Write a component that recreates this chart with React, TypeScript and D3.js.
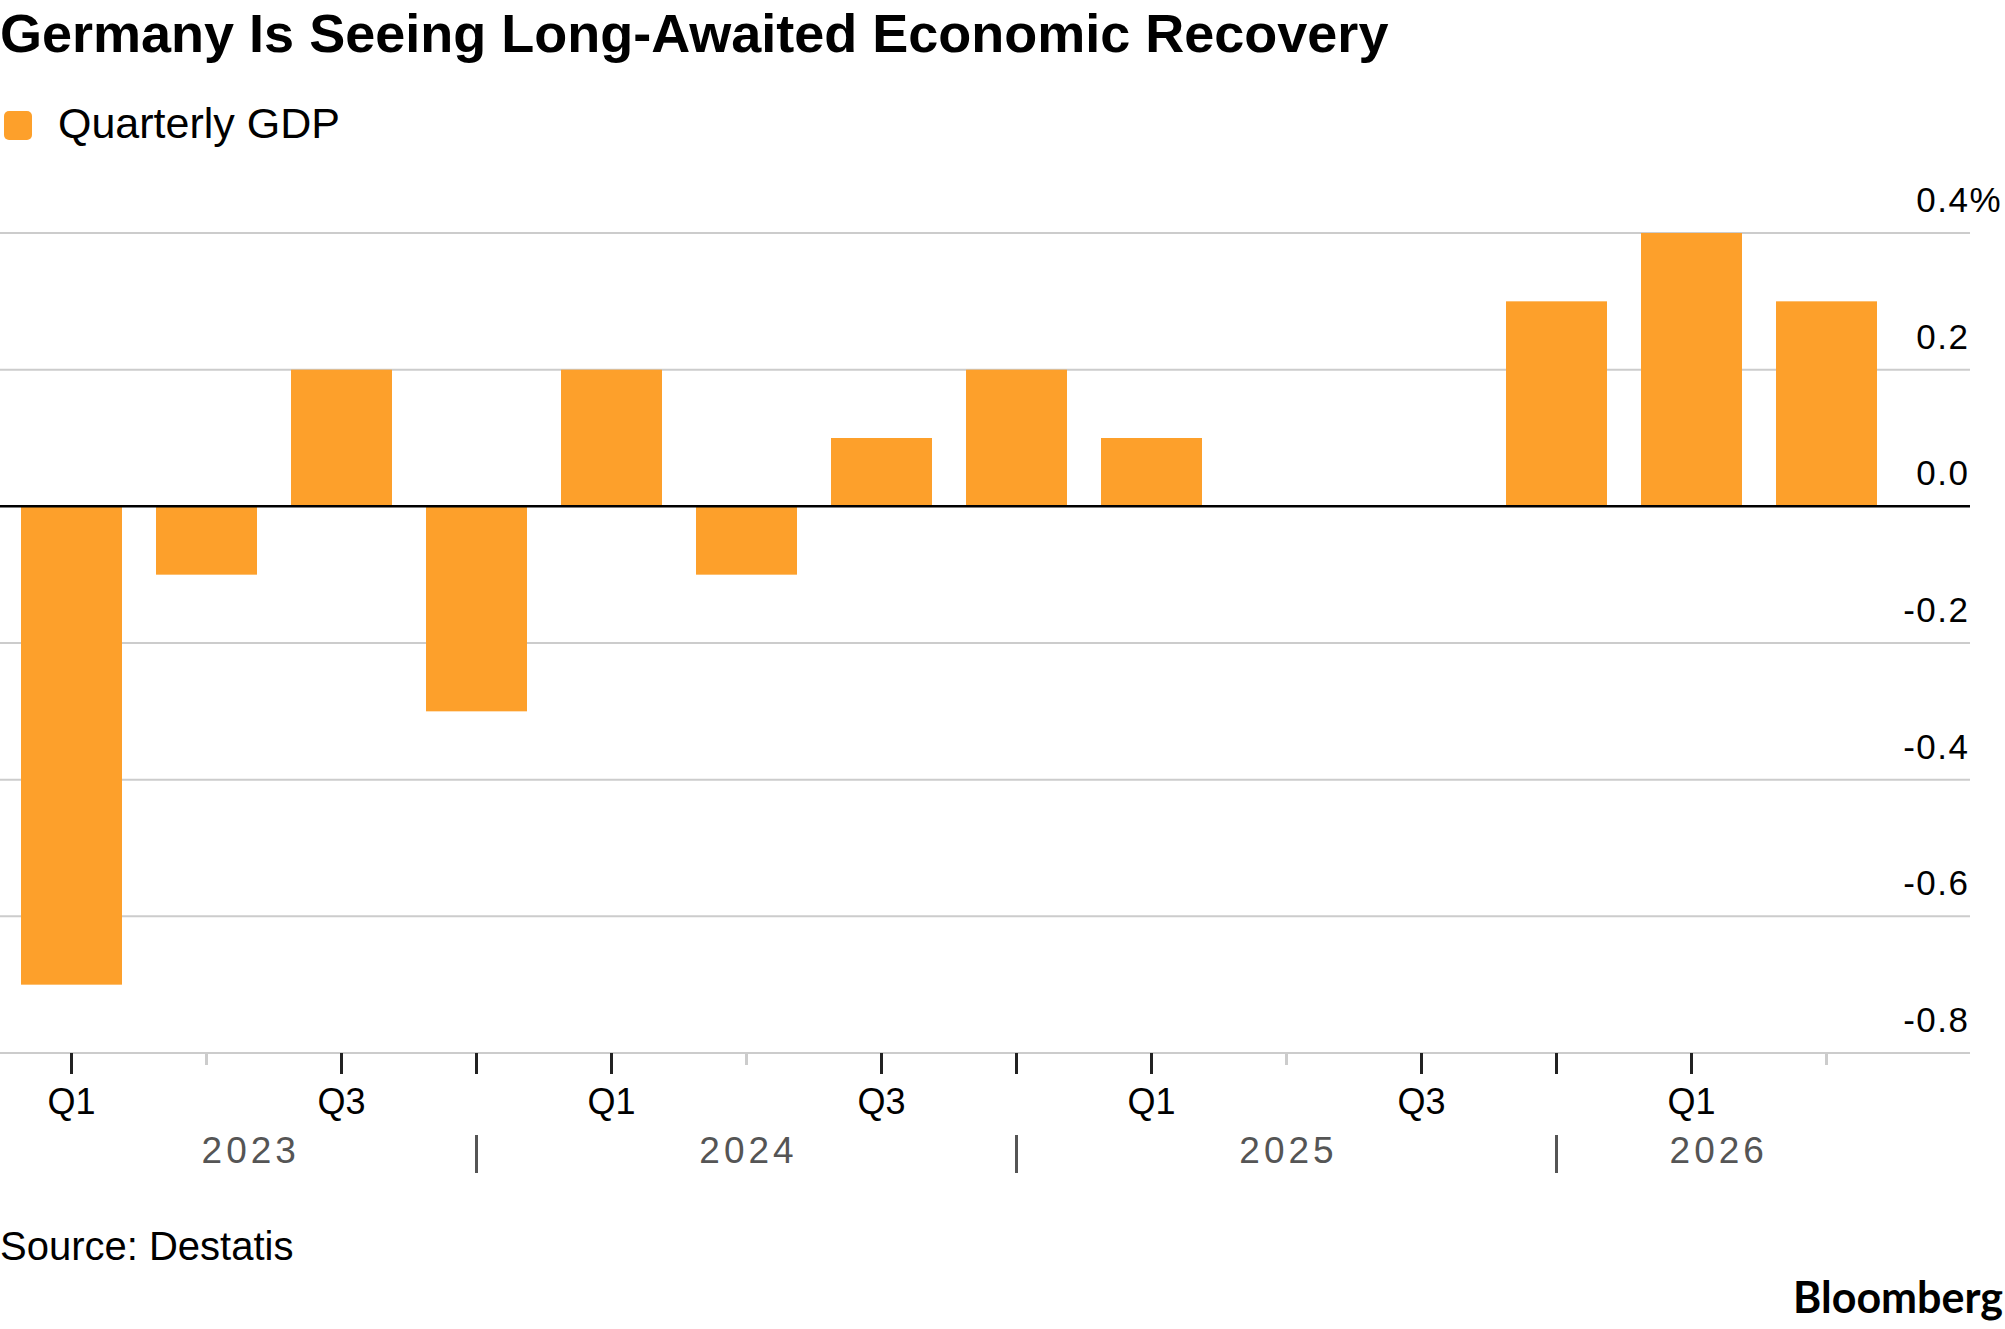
import React from 'react';
import * as d3 from 'd3';

const quarters = ['Q1', 'Q2', 'Q3', 'Q4', 'Q1', 'Q2', 'Q3', 'Q4', 'Q1', 'Q2', 'Q3', 'Q4', 'Q1', 'Q2'];
const years = ['2023', '2023', '2023', '2023', '2024', '2024', '2024', '2024', '2025', '2025', '2025', '2025', '2026', '2026'];
const gdpValues = [-0.7, -0.1, 0.2, -0.3, 0.2, -0.1, 0.1, 0.2, 0.1, 0, 0, 0.3, 0.4, 0.3];
const yTicks = [0.4, 0.2, 0, -0.2, -0.4, -0.6, -0.8];
const yearLabels = ['2023', '2024', '2025', '2026'];

const W = 2005;
const H = 1329;
const BAR_COLOR = '#FDA02B';
const FONT = '"Liberation Sans", Arial, Helvetica, sans-serif';

const App: React.FC = () => {
  const keys = quarters.map((q, i) => `${years[i]}-${q}`);

  const x = d3.scaleBand<string>()
    .domain(keys)
    .range([4, 1894])
    .paddingInner(0.252)
    .paddingOuter(0.126);

  const y = d3.scaleLinear()
    .domain([-0.8, 0.4])
    .range([1053, 233]);

  const cx = (k: string) => (x(k) ?? 0) + x.bandwidth() / 2;
  const gridRight = 1970;
  const labelRight = 1968;
  const ls = 1.5;

  // year separators sit on the Q4 ticks
  const sepKeys = keys.filter((k, i) => quarters[i] === 'Q4');
  const bounds = [x(keys[0]) ?? 0, ...sepKeys.map(cx), (x(keys[keys.length - 1]) ?? 0) + x.bandwidth()];

  return (
    <svg
      width={W}
      height={H}
      style={{ position: 'absolute', left: 0, top: 0, background: '#fff' }}
    >
      <rect x={0} y={0} width={W} height={H} fill="#fff" />

      {/* title + legend */}
      <text x={0} y={52} fontFamily={FONT} fontWeight={700} fontSize={54} fill="#000">
        Germany Is Seeing Long-Awaited Economic Recovery
      </text>
      <rect x={4} y={111} width={28} height={29} rx={5} fill={BAR_COLOR} />
      <text x={58} y={138} fontFamily={FONT} fontSize={43} fill="#000">
        Quarterly GDP
      </text>

      {/* gridlines */}
      {yTicks.filter(t => t !== 0).map(t => (
        <line key={t} x1={0} x2={gridRight} y1={y(t)} y2={y(t)} stroke="#cccccc" strokeWidth={2} />
      ))}

      {/* bars */}
      {gdpValues.map((v, i) => (
        v === 0 ? null : (
          <rect
            key={keys[i]}
            x={x(keys[i])}
            width={x.bandwidth()}
            y={y(Math.max(0, v))}
            height={Math.abs(y(v) - y(0))}
            fill={BAR_COLOR}
          />
        )
      ))}

      {/* zero line */}
      <line x1={0} x2={gridRight} y1={y(0)} y2={y(0)} stroke="#000" strokeWidth={2.5} />

      {/* y labels */}
      {yTicks.map(t => (
        <g key={t}>
          <text
            x={labelRight + ls}
            y={y(t) - 21}
            textAnchor="end"
            fontFamily={FONT}
            fontSize={35}
            letterSpacing={ls}
            fill="#000"
          >
            {t.toFixed(1)}
          </text>
          {t === 0.4 && (
            <text x={labelRight + ls} y={y(t) - 21} fontFamily={FONT} fontSize={35} letterSpacing={ls} fill="#000">
              %
            </text>
          )}
        </g>
      ))}

      {/* x ticks */}
      {keys.map((k, i) => {
        const minor = quarters[i] === 'Q2';
        return (
          <line
            key={k}
            x1={cx(k)}
            x2={cx(k)}
            y1={y(-0.8)}
            y2={y(-0.8) + (minor ? 12 : 21)}
            stroke={minor ? '#cccccc' : '#222'}
            strokeWidth={3}
          />
        );
      })}

      {/* quarter labels */}
      {keys.map((k, i) => (
        quarters[i] === 'Q1' || quarters[i] === 'Q3' ? (
          <text key={k} x={cx(k)} y={1114} textAnchor="middle" fontFamily={FONT} fontSize={36} fill="#000">
            {quarters[i]}
          </text>
        ) : null
      ))}

      {/* year separators */}
      {sepKeys.map(k => (
        <line key={k} x1={cx(k)} x2={cx(k)} y1={1135} y2={1173} stroke="#555" strokeWidth={3} />
      ))}

      {/* year labels */}
      {yearLabels.map((yr, i) => (
        <text
          key={yr}
          x={(bounds[i] + bounds[i + 1]) / 2 + 2}
          y={1163}
          textAnchor="middle"
          fontFamily={FONT}
          fontSize={37}
          letterSpacing={4}
          fill="#555"
        >
          {yr}
        </text>
      ))}

      {/* footer */}
      <text x={0} y={1260} fontFamily={FONT} fontSize={40} fill="#000">
        Source: Destatis
      </text>
      <text x={2003} y={1313} textAnchor="end" fontFamily="Lato, sans-serif" fontWeight={700} fontSize={43} fill="#000">
        Bloomberg
      </text>
    </svg>
  );
};

export default App;
